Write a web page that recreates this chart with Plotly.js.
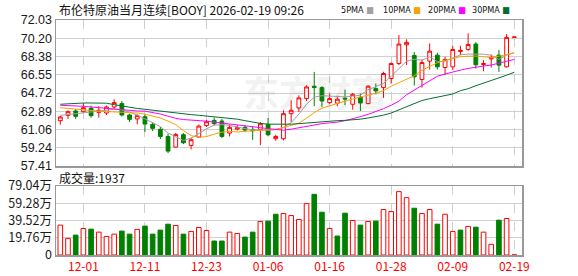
<!DOCTYPE html>
<html><head><meta charset="utf-8">
<script src="https://cdn.plot.ly/plotly-3.0.1.min.js"></script>
<style>html,body{margin:0;padding:0;background:#fff}#chart{width:578px;height:276px}</style>
</head><body><div id="chart"></div>
<script>
const dates = ['11-26','11-27','11-28','12-01','12-02','12-03','12-04','12-05','12-08','12-09','12-10','12-11','12-12','12-15','12-16','12-17','12-18','12-19','12-22','12-23','12-24','12-26','12-29','12-30','12-31','01-02','01-05','01-06','01-07','01-08','01-09','01-12','01-13','01-14','01-15','01-16','01-19','01-20','01-21','01-22','01-23','01-26','01-27','01-28','01-29','01-30','02-02','02-03','02-04','02-05','02-06','02-09','02-10','02-11','02-12','02-13','02-16','02-17','02-18','02-19'];
const open  = [61.95,62.48,62.92,62.85,63.19,62.78,62.72,63.32,63.66,62.52,62.12,62.35,61.58,61.08,60.37,59.30,60.54,59.47,60.31,61.45,61.98,61.91,60.71,61.11,61.28,61.08,61.08,61.58,60.14,60.14,62.65,63.22,64.16,65.40,65.26,63.76,63.70,64.20,63.59,64.30,63.66,65.16,65.26,66.17,67.67,69.55,68.48,66.07,67.91,68.51,67.27,67.34,68.88,69.08,69.62,67.57,68.14,68.51,67.34,70.29];
const high  = [62.42,62.99,63.12,63.72,63.46,63.39,63.46,64.09,63.92,62.65,62.58,62.58,61.78,61.31,60.64,60.71,60.71,60.24,61.55,62.05,62.25,62.12,61.58,61.51,61.51,61.38,61.81,62.22,60.54,62.99,63.99,64.49,65.50,66.84,65.40,64.66,64.45,65.06,64.73,64.66,65.50,65.67,66.84,67.78,70.52,70.09,68.81,68.08,69.68,68.75,68.35,69.42,69.45,70.69,69.82,68.01,68.58,69.02,70.62,70.39];
const low   = [61.55,62.12,62.12,62.72,62.25,62.25,62.52,63.15,62.38,61.81,61.58,60.81,60.91,60.11,58.70,59.24,59.60,59.07,60.21,61.31,61.48,60.21,60.37,60.98,60.81,60.04,59.50,60.41,59.94,59.97,61.81,62.82,63.92,63.39,63.32,63.59,63.40,63.49,63.05,62.92,63.59,64.59,64.23,65.67,67.51,67.51,65.47,65.26,67.07,67.07,66.50,67.01,68.51,68.95,67.17,66.90,67.27,66.84,67.27,70.26];
const close = [62.32,62.85,62.38,63.25,62.45,62.99,63.32,63.76,62.52,62.08,62.45,61.61,61.18,60.37,58.90,60.57,59.74,60.04,61.41,61.85,61.65,60.37,61.28,61.25,61.01,60.94,61.65,60.54,60.37,62.65,62.99,64.23,65.33,65.26,63.92,64.16,64.10,64.12,64.59,63.72,65.40,64.93,66.67,67.67,69.62,69.79,66.34,67.78,68.91,67.34,68.08,69.08,68.98,69.58,67.54,67.67,68.28,67.51,70.29,70.32];
const ma5  = [62.48,62.58,62.68,62.75,62.82,62.90,62.99,63.10,63.02,62.80,62.50,62.15,61.75,61.35,60.70,60.35,59.97,60.20,60.65,61.14,61.50,61.55,61.48,61.30,61.15,61.04,61.00,60.98,61.05,61.25,61.75,62.60,63.60,64.30,64.45,64.39,64.33,64.33,64.40,64.50,65.05,65.40,65.67,66.40,67.20,67.90,68.10,68.00,68.35,67.85,67.90,68.25,68.55,68.61,68.61,68.61,68.50,68.08,68.50,68.75];
const ma10 = [63.25,63.17,63.08,62.99,62.94,62.89,62.86,62.83,62.82,62.82,62.72,62.60,62.42,62.22,61.90,61.55,60.95,60.45,60.28,60.35,60.60,60.80,60.88,60.82,60.88,60.95,61.00,61.04,61.10,61.25,61.45,61.70,62.20,62.75,63.20,63.45,63.70,63.90,64.12,64.30,64.45,64.70,64.95,65.40,65.75,66.10,66.45,67.00,67.40,67.75,68.00,68.20,68.35,68.40,68.42,68.35,68.28,68.40,68.55,68.75];
const ma20 = [63.49,63.47,63.44,63.39,63.32,63.25,63.15,63.07,63.00,62.93,62.92,62.90,62.78,62.62,62.40,62.18,62.06,62.03,61.99,61.90,61.80,61.72,61.62,61.52,61.42,61.33,61.25,61.15,61.05,61.00,61.10,61.25,61.35,61.50,61.65,61.73,61.80,61.95,62.12,62.35,62.58,62.85,63.15,63.50,63.90,64.55,65.00,65.50,65.95,66.40,66.62,66.85,67.01,67.18,67.33,67.42,67.52,67.68,67.90,68.08];
const ma30 = [63.59,63.65,63.70,63.72,63.72,63.72,63.70,63.55,63.42,63.25,63.17,63.09,63.00,62.89,62.82,62.68,62.62,62.55,62.49,62.42,62.35,62.28,62.20,62.10,61.95,61.80,61.68,61.60,61.58,61.58,61.60,61.65,61.72,61.80,61.88,61.92,61.95,61.98,62.03,62.10,62.22,62.35,62.50,62.72,63.05,63.35,63.72,63.97,64.15,64.32,64.45,64.62,64.95,65.15,65.45,65.70,65.93,66.20,66.50,66.80];
const volume = [34.2,19.0,22.8,30.4,29.6,26.2,21.3,23.9,27.4,23.9,29.3,33.1,23.9,28.5,35.3,33.8,23.9,27.0,31.5,28.1,16.0,16.0,26.2,24.7,20.5,26.2,38.4,38.8,46.7,47.5,45.2,40.7,58.9,69.5,49.0,30.4,21.7,47.9,39.5,34.2,38.4,38.8,52.1,49.8,72.6,65.7,53.6,47.5,52.1,35.3,46.7,27.0,28.5,32.7,31.9,26.2,12.2,39.9,41.8,0.1937];
const volDir = [1,1,-1,1,-1,1,1,1,-1,-1,1,-1,-1,-1,-1,1,-1,1,1,1,-1,-1,1,1,-1,-1,1,-1,-1,1,1,1,1,-1,-1,1,-1,-1,1,-1,1,-1,1,1,1,1,-1,1,1,-1,1,1,-1,1,-1,1,1,-1,1,1];
const priceTicks = [57.41,59.24,61.06,62.89,64.72,66.55,68.38,70.20,72.03];
const volTicks = [0,19.76,39.52,59.28,79.04];
const volTickText = ['0','19.76万','39.52万','59.28万','79.04万'];
const labelDates = ['12-01','12-11','12-23','01-06','01-16','01-28','02-09','02-19'];
const maNames = ['5PMA','10PMA','20PMA','30PMA'];
const maColors = ['#a0a0a0','#f5a300','#ff00ff','#00702f'];
const maData = [ma5, ma10, ma20, ma30];

const RED = '#ff0000', GREEN = '#008000';
const traces = [];
traces.push({
  type:'candlestick', x:dates, open:open, high:high, low:low, close:close,
  xaxis:'x', yaxis:'y', hoverinfo:'skip', showlegend:false, whiskerwidth:0,
  increasing:{line:{color:RED,width:1}, fillcolor:'#ffffff'},
  decreasing:{line:{color:GREEN,width:1}, fillcolor:GREEN}
});
maData.forEach((d,i)=>traces.push({
  type:'scatter', mode:'lines', x:dates, y:d, xaxis:'x', yaxis:'y',
  line:{color:maColors[i], width:1}, hoverinfo:'skip', showlegend:false
}));
traces.push({
  type:'bar', x:dates, y:volume, xaxis:'x2', yaxis:'y2', width:0.6,
  marker:{color:volDir.map(d=>d>0?'#ffffff':GREEN), line:{color:volDir.map(d=>d>0?RED:GREEN), width:1}},
  hoverinfo:'skip', showlegend:false
});

const L=56, R=522, T=20, B=255;
const px = x => (x-L)/(R-L);
const py = y => (B-y)/(B-T);
const annotations = [
  {text:'布伦特原油当月连续[BOOY] 2026-02-19 09:26', xref:'paper', yref:'paper', x:px(57), y:py(10), xanchor:'left', yanchor:'middle', showarrow:false, font:{family:'Noto Sans CJK SC', size:12, color:'#111'}},
  {text:'成交量:1937', xref:'paper', yref:'paper', x:px(57), y:py(177), xanchor:'left', yanchor:'middle', showarrow:false, font:{family:'Noto Sans CJK SC', size:12, color:'#111'}},
  {text:'东方财富', xref:'paper', yref:'paper', x:px(315), y:py(91), xanchor:'center', yanchor:'middle', showarrow:false, font:{family:'Noto Sans CJK SC', size:36, color:'rgba(120,120,120,0.11)', weight:700}}
];
const legX = [339, 381, 426, 470];
maNames.forEach((n,i)=>annotations.push({
  text:n+' <span style="color:'+maColors[i]+'">■</span>', xref:'paper', yref:'paper', x:px(legX[i]), y:py(10),
  xanchor:'left', yanchor:'middle', showarrow:false, font:{family:'DejaVu Sans Condensed, DejaVu Sans', size:9, color:'#111'}
}));

const layout = {
  width:578, height:276, margin:{l:L, r:578-R, t:T, b:276-B}, paper_bgcolor:'#fff', plot_bgcolor:'#fff',
  showlegend:false, bargap:0.4,
  xaxis:{type:'category', domain:[0,1], anchor:'y', range:[-0.56,60], rangeslider:{visible:false},
    tickmode:'array', tickvals:labelDates, showticklabels:false, showgrid:true, gridcolor:'#cfcfcf', griddash:'dash', gridwidth:1,
    showline:true, mirror:true, linecolor:'#999', linewidth:1.5, ticks:'', zeroline:false, fixedrange:true},
  yaxis:{domain:[py(166),1], anchor:'x', range:[57.41,72.03], tickmode:'array', tickvals:priceTicks, ticktext:priceTicks.map(v=>v.toFixed(2)),
    showgrid:true, gridcolor:'#d0d0d0', gridwidth:1, showline:true, mirror:true, linecolor:'#999', linewidth:1.5, ticks:'', zeroline:false,
    tickfont:{family:'Liberation Sans', size:12.5, color:'#1a1a1a'}},
  xaxis2:{type:'category', domain:[0,1], anchor:'y2', matches:'x', range:[-0.56,60], tickmode:'array', tickvals:labelDates, ticktext:labelDates,
    showgrid:true, gridcolor:'#cfcfcf', griddash:'dash', gridwidth:1, showline:true, mirror:true, linecolor:'#999', linewidth:1.5, ticks:'', zeroline:false,
    tickfont:{family:'Noto Sans CJK SC', size:12, color:'#ff0000'}, tickangle:0},
  yaxis2:{domain:[0,py(186)], anchor:'x2', range:[0,79.04], tickmode:'array', tickvals:volTicks, ticktext:volTickText,
    showgrid:true, gridcolor:'#d0d0d0', gridwidth:1, showline:true, mirror:true, linecolor:'#999', linewidth:1.5, ticks:'', zeroline:false,
    tickfont:{family:'Noto Sans CJK SC', size:12.5, color:'#1a1a1a'}},
  annotations:annotations
};
Plotly.newPlot('chart', traces, layout, {staticPlot:true, displayModeBar:false});
</script></body></html>
